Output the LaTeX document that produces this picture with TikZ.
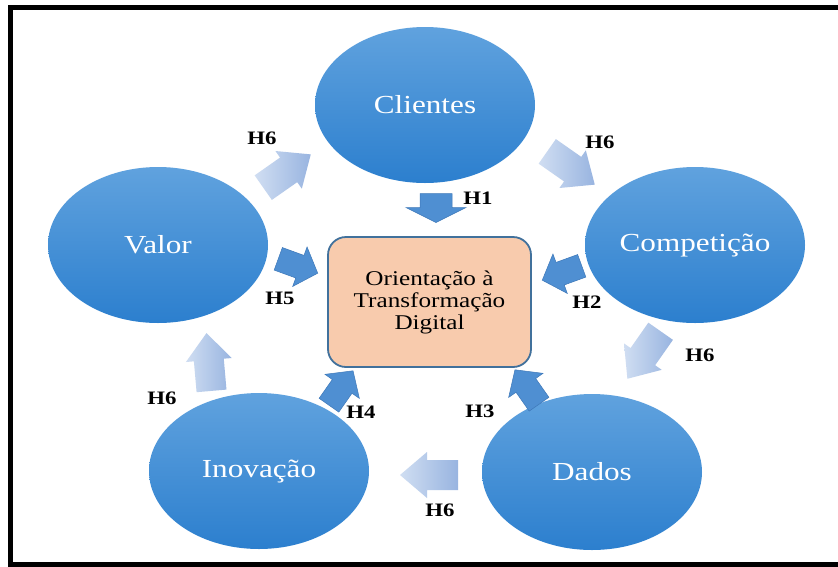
\documentclass[tikz,border=0pt]{standalone}
\usepackage{fontspec}
\setmainfont[FakeStretch=1.2]{Liberation Serif}
\usetikzlibrary{shapes.geometric}

\definecolor{balltop}{RGB}{96,162,222}
\definecolor{ballbot}{RGB}{44,127,206}
\definecolor{boxfill}{RGB}{248,203,173}
\definecolor{boxedge}{RGB}{65,113,156}
\definecolor{darkarr}{RGB}{79,143,210}
\definecolor{darkedge}{RGB}{62,120,185}
\definecolor{hsixhead}{RGB}{152,180,224}
\definecolor{hsixtail}{RGB}{208,222,242}

% block arrow: name, centre, direction, length, head length, head half-width, shaft half-width, style
\newcommand\blockarrow[8]{%
  \coordinate (#1) at #2;
  \path[#8, shift={(#1)}, rotate=#3]
    (-#4/2,#7) -- ({#4/2-#5},#7) -- ({#4/2-#5},#6) -- (#4/2,0)
    -- ({#4/2-#5},-#6) -- ({#4/2-#5},-#7) -- (-#4/2,-#7) -- cycle;}

\tikzset{
  ball/.style={ellipse, minimum width=220pt, minimum height=156pt, inner sep=0pt,
    top color=balltop, bottom color=ballbot, text=white,
    font=\fontsize{26}{28}\selectfont},
  centrebox/.style={draw=boxedge, line width=1.8pt, fill=boxfill, rounded corners=18pt,
    minimum width=203pt, minimum height=130pt, align=center, inner sep=0pt,
    font=\fontsize{21}{22}\selectfont},
  hyp/.style={fill=darkarr, draw=darkedge, line width=0.5pt},
  hsix/.style={left color=hsixtail, right color=hsixhead},
  lbl/.style={inner sep=0pt, font=\fontsize{19}{20}\selectfont\bfseries}
}

\begin{document}
\begin{tikzpicture}[x=1pt, y=-1pt]
\useasboundingbox (0,0) rectangle (838,566);
\fill[white] (0,0) rectangle (838,566);

% frame
\draw[line width=5pt] (838,7.5) -- (10.5,7.5) -- (10.5,564) -- (838,564);

% constructs
\node[ball] (cli) at (425,105) {Clientes};
\node[ball] (comp) at (695,245) {Competição};
\node[ball] (val) at (158,245) {Valor};
\node[ball] (dad) at (592,472) {Dados};
\node[ball] (ino) at (259,471) {Inovação};

\node[centrebox] (otd) at (429.5,302) {Orientação à\\Transformação\\Digital};

% direct effects on the central construct
\blockarrow{a1}{(436,208)}{-90}{29}{15}{30}{16}{hyp}
\blockarrow{a2}{(562,273)}{200}{42}{19}{21}{12}{hyp}
\blockarrow{a3}{(527,387)}{125}{42}{19}{21}{12}{hyp}
\blockarrow{a4}{(341,388)}{55}{42}{19}{21}{12}{hyp}
\blockarrow{a5}{(298,266)}{-20}{42}{19}{21}{12}{hyp}

% links around the ring
\blockarrow{r1}{(287,171)}{35}{58}{27}{23}{15}{hsix}
\blockarrow{r2}{(571,168)}{-35}{58}{27}{23}{15}{hsix}
\blockarrow{r3}{(644,355)}{-125}{58}{27}{23}{15}{hsix}
\blockarrow{r4}{(429,475)}{180}{58}{27}{23}{15}{hsix}
\blockarrow{r5}{(209,362)}{95}{58}{27}{23}{15}{hsix}

% labels
\node[lbl] (h1) at (478,198) {H1};
\node[lbl] (h2) at (587,302) {H2};
\node[lbl] (h3) at (480,411) {H3};
\node[lbl] (h4) at (361,412) {H4};
\node[lbl] (h5) at (280,298) {H5};
\node[lbl] (h6a) at (262,138) {H6};
\node[lbl] (h6b) at (600,142) {H6};
\node[lbl] (h6c) at (700,355) {H6};
\node[lbl] (h6d) at (440,510) {H6};
\node[lbl] (h6e) at (162,398) {H6};
\end{tikzpicture}
\end{document}
